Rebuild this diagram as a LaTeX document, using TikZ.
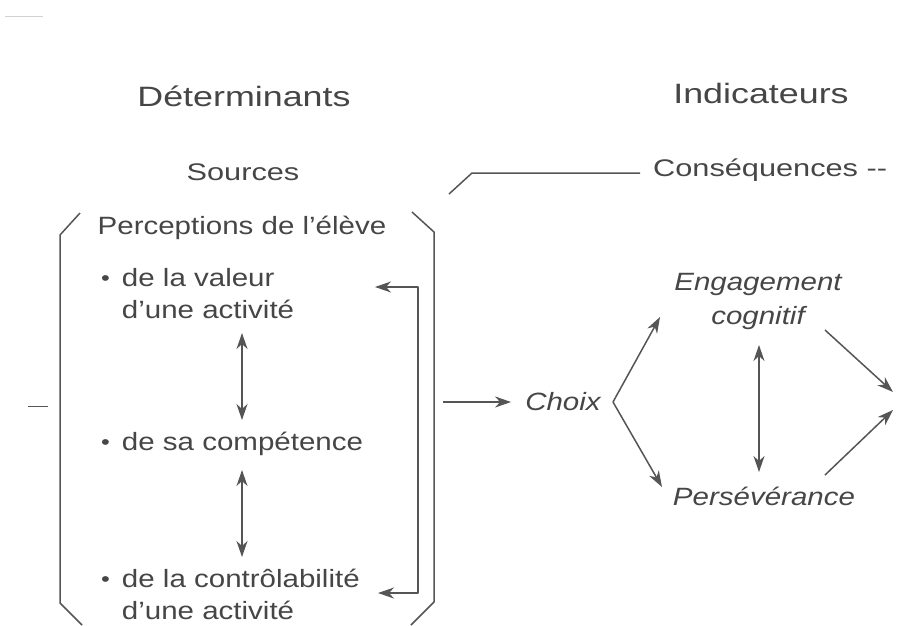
\documentclass[tikz,border=0pt]{standalone}
\usepackage{fontspec}
\setmainfont{Liberation Sans}[FakeStretch=1.18]
\newfontfamily\headfont{Liberation Sans}[FakeStretch=1.28]
\usetikzlibrary{arrows.meta}
\definecolor{ink}{RGB}{70,70,70}
\definecolor{linec}{RGB}{85,85,85}
\newcommand{\itembul}{\raisebox{1pt}{\scalebox{0.85}{•}}\hspace{12pt}}
\newcommand{\itemgap}{\hphantom{\itembul}}
\begin{document}
\begin{tikzpicture}[x=1pt,y=-1pt,
  bodytxt/.style={font=\fontsize{25}{32}\selectfont, text=ink, inner sep=0pt},
  italtxt/.style={font=\fontsize{25}{34}\selectfont\itshape, text=ink, inner sep=0pt},
  headtxt/.style={font=\headfont\fontsize{28}{34}\selectfont, text=ink, inner sep=0pt},
  subtxt/.style={font=\headfont\fontsize{24}{30}\selectfont, text=ink, inner sep=0pt},
  ln/.style={draw=linec, line width=1.5pt, line join=round},
  arr/.style={ln, -{Stealth[length=16pt,width=11pt,inset=5pt]}},
  darr/.style={ln, {Stealth[length=16pt,width=11pt,inset=5pt]}-{Stealth[length=16pt,width=11pt,inset=5pt]}},
]
\fill[white] (0,0) rectangle (911,625);
\useasboundingbox (0,0) rectangle (911,625);

% faint marks
\draw[draw=gray!35, line width=1pt] (5,16) -- (43,16);
\draw[ln, line width=1pt] (28,406) -- (48,406);

% headings
\node[headtxt] (det) at (244,96) {Déterminants};
\node[headtxt] (ind) at (761,93) {Indicateurs};
\node[subtxt] (src) at (243,172) {Sources};
\node[subtxt, anchor=west] (cons) at (653,170) {Conséquences --};

% left box content
\node[bodytxt] (perc) at (242,228) {Perceptions de l’élève};
\node[bodytxt, align=left, anchor=west] (val) at (101,294) {\itembul de la valeur\\\itemgap d’une activité};
\node[bodytxt, anchor=west] (comp) at (101,444) {\itembul de sa compétence};
\node[bodytxt, align=left, anchor=west] (ctrl) at (101,594) {\itembul de la contrôlabilité\\\itemgap d’une activité};

% right side
\node[italtxt] (choix) at (563,402) {Choix};
\node[italtxt, align=center] (eng) at (758,301) {Engagement\\cognitif};
\node[italtxt] (pers) at (764,496) {Persévérance};

% bracket frame
\draw[ln] (80,213) -- (60,235) -- (60,603) -- (82,625);
\draw[ln] (412,212) -- (434,232) -- (434,602) -- (411,625);

% consequences line
\coordinate (c0) at (449,194);
\coordinate (c1) at (472,173);
\coordinate (c2) at (640,173);
\draw[ln] (c0) -- (c1) -- (c2);

% feedback loop
\coordinate (fbA) at (375,287);
\coordinate (fbB) at (378,593);
\draw[darr] (fbA) -- ++(43,0) |- (fbB);

% vertical links between perceptions
\coordinate (v1a) at (242,333);
\coordinate (v1b) at (242,420);
\coordinate (v2a) at (242,470);
\coordinate (v2b) at (242,557);
\draw[darr] (v1a) -- (v1b);
\draw[darr] (v2a) -- (v2b);

% to Choix
\coordinate (out) at (443,402);
\draw[arr, shorten >=14pt] (out) -- (choix.west);

% chevron
\coordinate (chev) at (613,402);
\coordinate (engin) at (660,317);
\coordinate (persin) at (662,487);
\draw[arr] (chev) -- (engin);
\draw[arr] (chev) -- (persin);

% engagement <-> perseverance
\coordinate (ep1) at (759,345);
\coordinate (ep2) at (759,472);
\draw[darr] (ep1) -- (ep2);

% right converging arrows
\coordinate (e1) at (825,330);
\coordinate (t1) at (893,392);
\coordinate (p1) at (825,475);
\coordinate (t2) at (893,410);
\draw[arr] (e1) -- (t1);
\draw[arr] (p1) -- (t2);
\end{tikzpicture}
\end{document}
